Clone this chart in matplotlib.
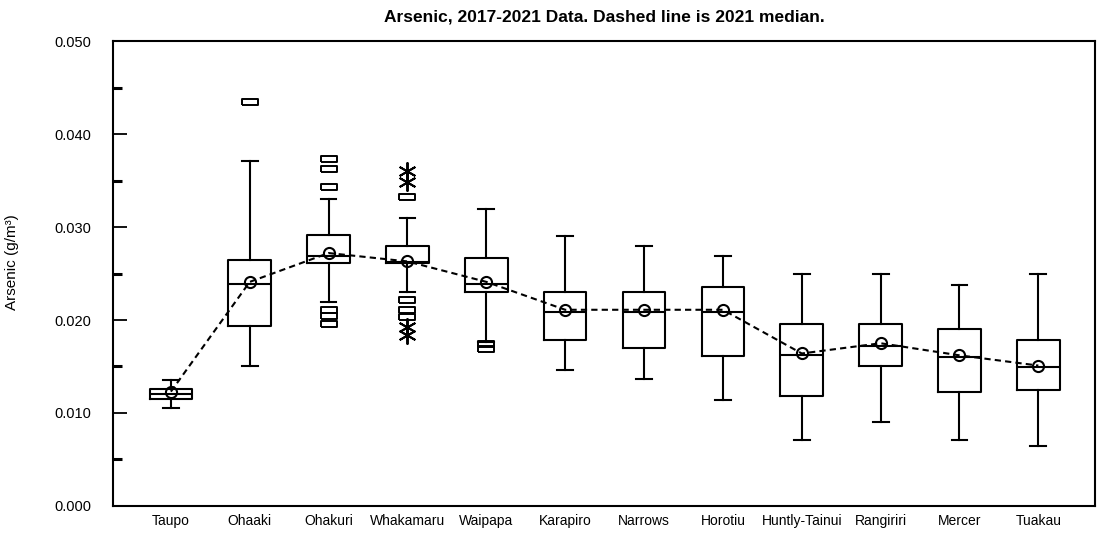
import numpy as np
import matplotlib
matplotlib.use("Agg")
import matplotlib.pyplot as plt
from matplotlib.ticker import MultipleLocator, FormatStrFormatter

plt.rcParams['font.family'] = ['Liberation Sans', 'DejaVu Sans']

# sites along the river, upstream to downstream
sites = ["Taupo", "Ohaaki", "Ohakuri", "Whakamaru", "Waipapa", "Karapiro",
         "Narrows", "Horotiu", "Huntly-Tainui", "Rangiriri", "Mercer", "Tuakau"]

# 2017-2021 box statistics (g/m3)
whislo = [0.0105, 0.0151, 0.0219, 0.0230, 0.0176, 0.0146, 0.0137, 0.0114, 0.0071, 0.0090, 0.0071, 0.0064]
q1 = [0.0115, 0.0194, 0.0261, 0.0261, 0.0230, 0.0179, 0.0170, 0.0161, 0.0118, 0.0151, 0.0123, 0.0125]
med = [0.0120, 0.0239, 0.0269, 0.0262, 0.0239, 0.0209, 0.0209, 0.0209, 0.0162, 0.0172, 0.0160, 0.0149]
q3 = [0.0126, 0.0265, 0.0291, 0.0280, 0.0267, 0.0230, 0.0230, 0.0235, 0.0196, 0.0196, 0.0190, 0.0179]
whishi = [0.0136, 0.0371, 0.0330, 0.0310, 0.0319, 0.0290, 0.0280, 0.0269, 0.0250, 0.0250, 0.0238, 0.0250]

# outliers (squares) and extremes (asterisks)
outliers = [[], [0.0434], [0.0373, 0.0362, 0.0343, 0.0211, 0.0204, 0.0196],
            [0.0332, 0.0222, 0.0211, 0.0203], [0.0174, 0.0169], [], [], [], [], [], [], []]
extremes = [[], [], [], [0.0360, 0.0348, 0.0192, 0.0184], [], [], [], [], [], [], [], []]

# 2021 median (dashed line)
median_2021 = [0.0123, 0.0241, 0.0272, 0.0263, 0.0241, 0.0211, 0.0211, 0.0211, 0.0164, 0.0175, 0.0162, 0.0151]

positions = np.arange(1, len(sites) + 1)

stats = []
for i, name in enumerate(sites):
    stats.append(dict(label=name, whislo=whislo[i], q1=q1[i], med=med[i], q3=q3[i],
                      whishi=whishi[i], fliers=outliers[i]))

fig = plt.figure(figsize=(10.97, 5.40), dpi=100)
ax = fig.add_axes([0.1033, 0.063, 0.8950, 0.861])

rect = [(-1, -0.45), (1, -0.45), (1, 0.45), (-1, 0.45), (-1, -0.45)]
line = dict(color="black", linewidth=1.5)
ax.bxp(stats, positions=positions, widths=0.54, capwidths=0.2,
       boxprops=line, whiskerprops=line, capprops=line, medianprops=line,
       flierprops=dict(marker=rect, markersize=11, markerfacecolor="none",
                       markeredgecolor="black", markeredgewidth=1.4, linestyle="none"))

for i, vals in enumerate(extremes):
    if vals:
        ax.plot([positions[i]] * len(vals), vals, linestyle="none", marker=(6, 2, 0),
                markersize=13, markeredgecolor="black", markeredgewidth=1.4)

ax.plot(positions, median_2021, color="black", linestyle=(0, (3, 2)), linewidth=1.5,
        marker="o", markersize=8, markerfacecolor="none", markeredgecolor="black",
        markeredgewidth=1.5, zorder=5)

ax.set_xlim(0.27, 12.72)
ax.set_ylim(0, 0.05)
ax.set_xticks(positions, sites)
ax.yaxis.set_major_locator(MultipleLocator(0.01))
ax.yaxis.set_minor_locator(MultipleLocator(0.005))
ax.yaxis.set_major_formatter(FormatStrFormatter("%.3f"))
ax.tick_params(axis="x", length=0, pad=6, labelsize=10)
ax.tick_params(axis="y", which="major", direction="in", length=10, width=1.3, pad=16, labelsize=10.5)
ax.tick_params(axis="y", which="minor", direction="in", length=6.5, width=2.2)
for s in ax.spines.values():
    s.set_linewidth(1.5)

ax.set_ylabel("Arsenic (g/m³)", fontsize=11)
ax.yaxis.set_label_coords(-0.096, 0.525)
ax.set_title("Arsenic, 2017-2021 Data. Dashed line is 2021 median.", fontsize=12.5,
             fontweight="bold", pad=14)

fig.savefig("out.png", dpi=100)
